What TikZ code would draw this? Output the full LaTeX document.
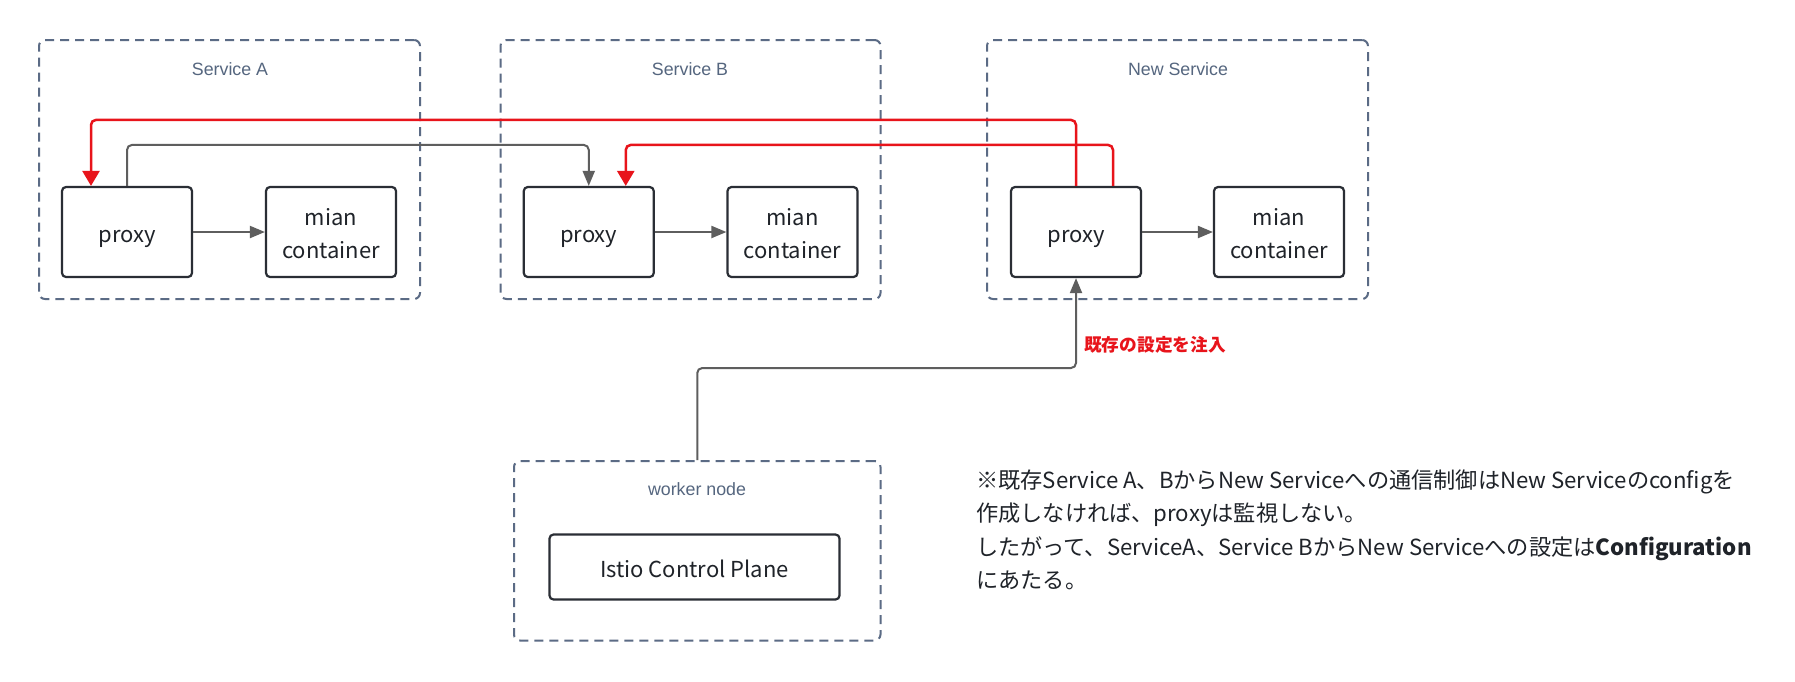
\documentclass[tikz,border=0pt]{standalone}
\usepackage{fontspec}
\setmainfont{Noto Sans CJK JP}
\newfontfamily\labfont{Liberation Sans}
\usetikzlibrary{arrows.meta}
\definecolor{dashc}{HTML}{5B6B85}
\definecolor{labc}{HTML}{55667F}
\definecolor{nodec}{HTML}{2A2E35}
\definecolor{linec}{HTML}{5E5E5E}
\definecolor{redc}{HTML}{E8141B}
\definecolor{txtc}{HTML}{1F2329}
\newcommand\lowered[2]{\raisebox{-#1}[\height][\depth]{#2}}
\begin{document}
\begin{tikzpicture}[x=1pt,y=-1pt,
  group/.style={draw=dashc, line width=2pt, dash pattern=on 9pt off 6pt, rounded corners=6pt, inner sep=0pt},
  grouplabel/.style={font=\labfont\fontsize{17.8}{21}\selectfont, text=labc, inner sep=0pt},
  box/.style={draw=nodec, line width=2.2pt, rounded corners=4pt, fill=white, text=txtc, font=\fontsize{22}{33.2}\selectfont, align=center, inner sep=0pt, minimum width=130pt, minimum height=90pt},
  conn/.style={draw=linec, line width=2pt, rounded corners=5pt, -{Triangle[length=15pt,width=12pt]}},
  redconn/.style={draw=redc, line width=2.5pt, rounded corners=5pt, -{Triangle[length=15pt,width=17pt]}},
]
\fill[white] (0,0) rectangle (1795,681);
\useasboundingbox (0,0) rectangle (1795,681);

% groups
\node[group, minimum width=381pt, minimum height=259pt] (ga) at (229.5,169.5) {};
\node[group, minimum width=380pt, minimum height=259pt] (gb) at (690.5,169.5) {};
\node[group, minimum width=381pt, minimum height=259pt] (gn) at (1177.5,169.5) {};
\node[group, minimum width=366.5pt, minimum height=179.5pt] (gw) at (697.25,550.75) {};

\node[grouplabel] (la) at (230,69) {Service A};
\node[grouplabel] (lb) at (690,69) {Service B};
\node[grouplabel] (ln) at (1178,69) {New Service};
\node[grouplabel] (lw) at (697,489) {worker node};

% boxes
\node[box] (pa) at (127,232) {\lowered{6.5pt}{proxy}};
\node[box] (ma) at (331,232) {\lowered{2pt}{mian}\\\lowered{2pt}{container}};
\node[box] (pb) at (588.75,232) {\lowered{6.5pt}{proxy}};
\node[box] (mb) at (792.5,232) {\lowered{2pt}{mian}\\\lowered{2pt}{container}};
\node[box] (pn) at (1076,232) {\lowered{6.5pt}{proxy}};
\node[box] (mn) at (1279,232) {\lowered{2pt}{mian}\\\lowered{2pt}{container}};
\node[box, minimum width=290pt, minimum height=65pt] (ist) at (694.5,567) {\lowered{1.5pt}{Istio Control Plane}};

% connectors
\draw[conn] (pa.east) -- (ma.west);
\draw[conn] (pb.east) -- (mb.west);
\draw[conn] (pn.east) -- (mn.west);
\draw[conn] (pa.north) -- ++(0,-41) -| (pb.north);
\draw[redconn] (pn.north) -- ++(0,-66) -| ([xshift=-36pt]pa.north);
\draw[redconn] ([xshift=37pt]pn.north) -- ++(0,-41) -| ([xshift=37pt]pb.north);
\draw[conn] (gw.north) -- ++(0,-92) -| (pn.south);

\node[anchor=west, inner sep=0pt, text=redc, font=\bfseries\fontsize{17.7}{21}\selectfont] (inj) at (1084,345) {既存の設定を注入};

\node[anchor=west, inner sep=0pt, align=left, text=txtc, font=\fontsize{22.2}{33.5}\selectfont] (note) at (976,530) {※既存Service A、BからNew Serviceへの通信制御はNew Serviceのconfigを\\作成しなければ、proxyは監視しない。\\したがって、ServiceA、Service BからNew Serviceへの設定は\textbf{Configuration}\\にあたる。};
\end{tikzpicture}
\end{document}
